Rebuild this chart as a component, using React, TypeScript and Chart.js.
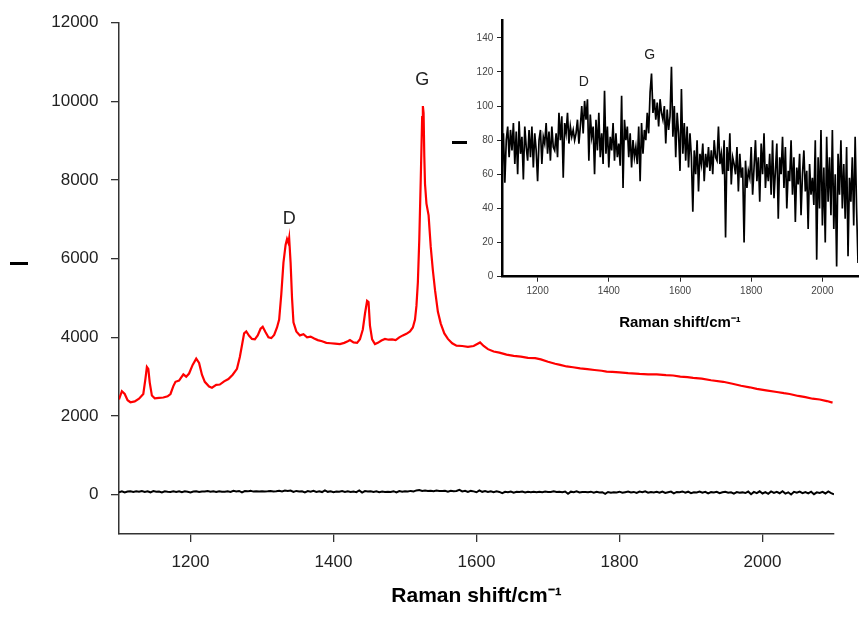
import React, { useEffect, useRef } from 'react';
import { Chart, registerables } from 'chart.js';

Chart.register(...registerables);
Chart.defaults.font.family = '"Liberation Sans", Arial, sans-serif';

// ---- Red spectrum (main plot) ----
const redShift = [
  1100, 1104, 1108, 1112, 1116, 1122, 1128, 1134, 1137, 1139, 1141, 1143, 1146, 1150, 1156, 1162, 1168, 1172, 1176, 1179,
  1184, 1190, 1194, 1198, 1203, 1208, 1212, 1216, 1220, 1226, 1230, 1236, 1241, 1247, 1253, 1259, 1265, 1269, 1272, 1275,
  1278, 1282, 1286, 1290, 1294, 1298, 1301, 1305, 1309, 1313, 1317, 1321, 1324, 1327, 1330, 1333, 1335, 1337, 1338, 1340,
  1342, 1344, 1348, 1353, 1358, 1363, 1368, 1373, 1378, 1384, 1390, 1396, 1402, 1409, 1415, 1420, 1423, 1428, 1433, 1437,
  1441, 1444, 1447, 1449, 1451, 1454, 1458, 1462, 1467, 1472, 1477, 1482, 1487, 1492, 1497, 1502, 1507, 1511, 1514, 1516,
  1518, 1520, 1522, 1524, 1525, 1526, 1527, 1528, 1530, 1533, 1536, 1539, 1542, 1546, 1550, 1555, 1560, 1566, 1572, 1580,
  1588, 1596, 1601, 1605, 1610, 1616, 1624, 1632, 1642, 1652, 1662, 1672, 1682, 1690, 1700, 1710, 1717, 1726, 1735, 1745,
  1755, 1765, 1775, 1782, 1790, 1800, 1812, 1828, 1840, 1852, 1865, 1875, 1885, 1895, 1903, 1915, 1928, 1945, 1958, 1970,
  1982, 1992, 2005, 2020, 2030, 2038, 2050, 2060, 2070, 2080, 2090, 2098,
];
const redIntensity = [
  2420, 2630, 2560, 2400, 2350, 2370, 2440, 2560, 2950, 3250, 3200, 2850, 2520, 2450, 2460, 2470, 2500, 2560, 2760, 2870,
  2900, 3060, 3000, 3080, 3300, 3460, 3350, 3050, 2870, 2750, 2720, 2790, 2800, 2880, 2940, 3050, 3200, 3500, 3800, 4100,
  4150, 4040, 3960, 3950, 4050, 4220, 4270, 4130, 4000, 3980, 4060, 4250, 4450, 5100, 5900, 6350, 6500, 6400, 6520, 5900,
  5000, 4380, 4150, 4050, 4080, 4000, 4020, 3970, 3930, 3900, 3860, 3850, 3840, 3830, 3860, 3900, 3930, 3870, 3860, 3950,
  4200, 4600, 4930, 4900, 4300, 3950, 3830, 3860, 3920, 3960, 3940, 3950, 3930, 4000, 4050, 4090, 4150, 4250, 4450, 4800,
  5400, 6500, 8000, 9600, 9880, 9700, 8600, 7900, 7400, 7100, 6300, 5700, 5200, 4650, 4350, 4100, 3960, 3850, 3790, 3780,
  3760, 3780, 3830, 3870, 3780, 3700, 3640, 3610, 3560, 3530, 3510, 3480, 3470, 3440, 3380, 3330, 3300, 3260, 3240, 3210,
  3190, 3170, 3150, 3130, 3120, 3110, 3090, 3070, 3060, 3060, 3040, 3030, 3000, 2990, 2970, 2950, 2910, 2870, 2820, 2770,
  2730, 2690, 2650, 2610, 2580, 2560, 2510, 2480, 2440, 2420, 2380, 2340,
];

// ---- Black (weak) spectrum, sampled every 4 cm-1 from 1100 ----
const blackStart = 1100;
const blackStep = 4;
const blackIntensity = [
  62, 84, 55, 80, 88, 70, 86, 74, 90, 66,
  85, 60, 91, 72, 82, 57, 88, 76, 68, 86,
  70, 88, 64, 84, 74, 56, 80, 86, 66, 82,
  78, 90, 72, 85, 68, 88, 76, 74, 84, 70,
  96, 80, 94, 58, 90, 84, 96, 78, 88, 82,
  86, 80, 84, 92, 78, 88, 100, 84, 103, 92,
  104, 68, 95, 82, 88, 60, 92, 74, 96, 70,
  84, 66, 109, 72, 88, 64, 82, 74, 90, 68,
  84, 70, 78, 65, 106, 52, 92, 80, 88, 70,
  84, 64, 80, 70, 76, 66, 88, 56, 90, 72,
  86, 80, 96, 84, 108, 119, 96, 104, 92, 102,
  88, 104, 96, 92, 100, 78, 98, 86, 94, 123,
  82, 100, 70, 96, 84, 62, 110, 72, 90, 68,
  88, 64, 84, 70, 38, 74, 60, 80, 50, 72,
  66, 78, 56, 72, 64, 76, 62, 74, 60, 80,
  70, 68, 88, 66, 72, 60, 80, 23, 76, 62,
  84, 54, 70, 66, 60, 76, 50, 72, 58, 64,
  20, 68, 52, 62, 58, 76, 48, 64, 80, 56,
  70, 44, 78, 60, 84, 52, 66, 56, 72, 48,
  80, 46, 62, 78, 34, 70, 60, 82, 52, 76,
  40, 62, 56, 80, 48, 70, 32, 64, 54, 72,
  36, 60, 74, 50, 62, 28, 66, 48, 58, 42,
  80, 10, 70, 40, 86, 30, 64, 20, 82, 44,
  70, 36, 86, 28, 60, 6, 72, 48, 80, 40,
  66, 34, 76, 12, 58, 44, 70, 30, 82, 40,
  8,
];

// ---- Axes ----
const mainXTicks = [1200, 1400, 1600, 1800, 2000];
const mainYTicks = [0, 2000, 4000, 6000, 8000, 10000, 12000];
const insetXTicks = [1200, 1400, 1600, 1800, 2000];
const insetYTicks = [0, 20, 40, 60, 80, 100, 120, 140];

// ---- Peak labels (data coordinates) ----
const mainPeakText = ['D', 'G'];
const mainPeakShift = [1338, 1524];
const mainPeakLevel = [7005, 10540];
const insetPeakText = ['D', 'G'];
const insetPeakShift = [1330, 1515];
const insetPeakLevel = [114, 130];

const xTitle = 'Raman shift/cm\u207B\u00B9';

function makeAnnot(id: string, texts: string[], xs: number[], ys: number[], font: string, dash: { x: number; y: number; w: number; h: number }) {
  return {
    id,
    afterDatasetsDraw(chart: any) {
      const { ctx, scales } = chart;
      ctx.save();
      ctx.font = font;
      ctx.fillStyle = '#222';
      ctx.textAlign = 'center';
      ctx.textBaseline = 'middle';
      texts.forEach((t, i) => {
        ctx.fillText(t, scales.x.getPixelForValue(xs[i]), scales.y.getPixelForValue(ys[i]));
      });
      ctx.fillStyle = '#000';
      ctx.fillRect(dash.x, dash.y, dash.w, dash.h);
      ctx.restore();
    },
  };
}

export default function App() {
  const mainRef = useRef<HTMLCanvasElement>(null);
  const insetRef = useRef<HTMLCanvasElement>(null);

  useEffect(() => {
    const redData = redShift.map((x, i) => ({ x, y: redIntensity[i] }));
    const blackData = blackIntensity.map((y, i) => ({ x: blackStart + i * blackStep, y }));

    const main = new Chart(mainRef.current!, {
      type: 'line',
      data: {
        datasets: [
          { data: redData, borderColor: '#ff0000', borderWidth: 2.2, pointRadius: 0, tension: 0 },
          { data: blackData, borderColor: '#000', borderWidth: 2, pointRadius: 0, tension: 0 },
        ],
      },
      options: {
        animation: false,
        responsive: false,
        maintainAspectRatio: false,
        layout: { padding: { left: 0, right: 25, top: 20.7, bottom: 0 } },
        plugins: { legend: { display: false }, tooltip: { enabled: false } },
        scales: {
          x: {
            type: 'linear',
            min: 1100,
            max: 2100,
            afterBuildTicks: (s: any) => { s.ticks = mainXTicks.map((v) => ({ value: v })); },
            afterFit: (s: any) => { s.height = 84; },
            grid: { drawOnChartArea: false, drawTicks: true, tickLength: 8, color: '#333', lineWidth: 1.3 },
            border: { display: true, color: '#333', width: 1.5 },
            ticks: { color: '#222', font: { size: 17 }, padding: 10, maxRotation: 0, autoSkip: false, callback: (v: any) => String(v) },
            title: { display: true, text: xTitle, color: '#000', font: { size: 21, weight: 'bold' }, padding: { top: 0, bottom: 9 } },
          },
          y: {
            type: 'linear',
            min: -1000,
            max: 12000,
            afterBuildTicks: (s: any) => { s.ticks = mainYTicks.map((v) => ({ value: v })); },
            afterFit: (s: any) => { s.width = 119; },
            grid: { drawOnChartArea: false, drawTicks: true, tickLength: 8, color: '#333', lineWidth: 1.3 },
            border: { display: true, color: '#333', width: 1.5 },
            ticks: { color: '#222', font: { size: 17 }, padding: 12.5, autoSkip: false, callback: (v: any) => String(v) },
          },
        },
      },
      plugins: [makeAnnot('mainAnnot', mainPeakText, mainPeakShift, mainPeakLevel, '18px "Liberation Sans", Arial, sans-serif', { x: 10, y: 262, w: 18, h: 3 })],
    } as any);

    const inset = new Chart(insetRef.current!, {
      type: 'line',
      data: {
        datasets: [
          { data: blackData, borderColor: '#000', borderWidth: 1.7, pointRadius: 0, tension: 0 },
        ],
      },
      options: {
        animation: false,
        responsive: false,
        maintainAspectRatio: false,
        layout: { padding: { left: 0, right: 1, top: 20.7, bottom: 0 } },
        plugins: { legend: { display: false }, tooltip: { enabled: false } },
        scales: {
          x: {
            type: 'linear',
            min: 1100,
            max: 2100,
            afterBuildTicks: (s: any) => { s.ticks = insetXTicks.map((v) => ({ value: v })); },
            afterFit: (s: any) => { s.height = 63.3; },
            grid: { drawOnChartArea: false, drawTicks: true, tickLength: 5, color: '#222', lineWidth: 1 },
            border: { display: true, color: '#000', width: 2.5 },
            ticks: { color: '#444', font: { size: 10 }, padding: 4, maxRotation: 0, autoSkip: false, callback: (v: any) => String(v) },
            title: { display: true, text: xTitle, color: '#000', font: { size: 15, weight: 'bold' }, padding: { top: 0, bottom: 8.3 } },
          },
          y: {
            type: 'linear',
            min: 0,
            max: 150,
            afterBuildTicks: (s: any) => { s.ticks = insetYTicks.map((v) => ({ value: v })); },
            afterFit: (s: any) => { s.width = 62; },
            grid: { drawOnChartArea: false, drawTicks: true, tickLength: 5, color: '#222', lineWidth: 1 },
            border: { display: true, color: '#000', width: 2.5 },
            ticks: { color: '#444', font: { size: 10 }, padding: 3.7, autoSkip: false, callback: (v: any) => String(v) },
          },
        },
      },
      plugins: [makeAnnot('insetAnnot', insetPeakText, insetPeakShift, insetPeakLevel, '14px "Liberation Sans", Arial, sans-serif', { x: 12, y: 141, w: 15, h: 3 })],
    } as any);

    return () => {
      main.destroy();
      inset.destroy();
    };
  }, []);

  return (
    <div style={{ position: 'absolute', left: 0, top: 0, width: 859, height: 618, background: '#fff' }}>
      <canvas ref={mainRef} width={859} height={618} style={{ position: 'absolute', left: 0, top: 0, display: 'block' }} />
      <canvas ref={insetRef} width={419} height={340} style={{ position: 'absolute', left: 440, top: 0, display: 'block' }} />
    </div>
  );
}
